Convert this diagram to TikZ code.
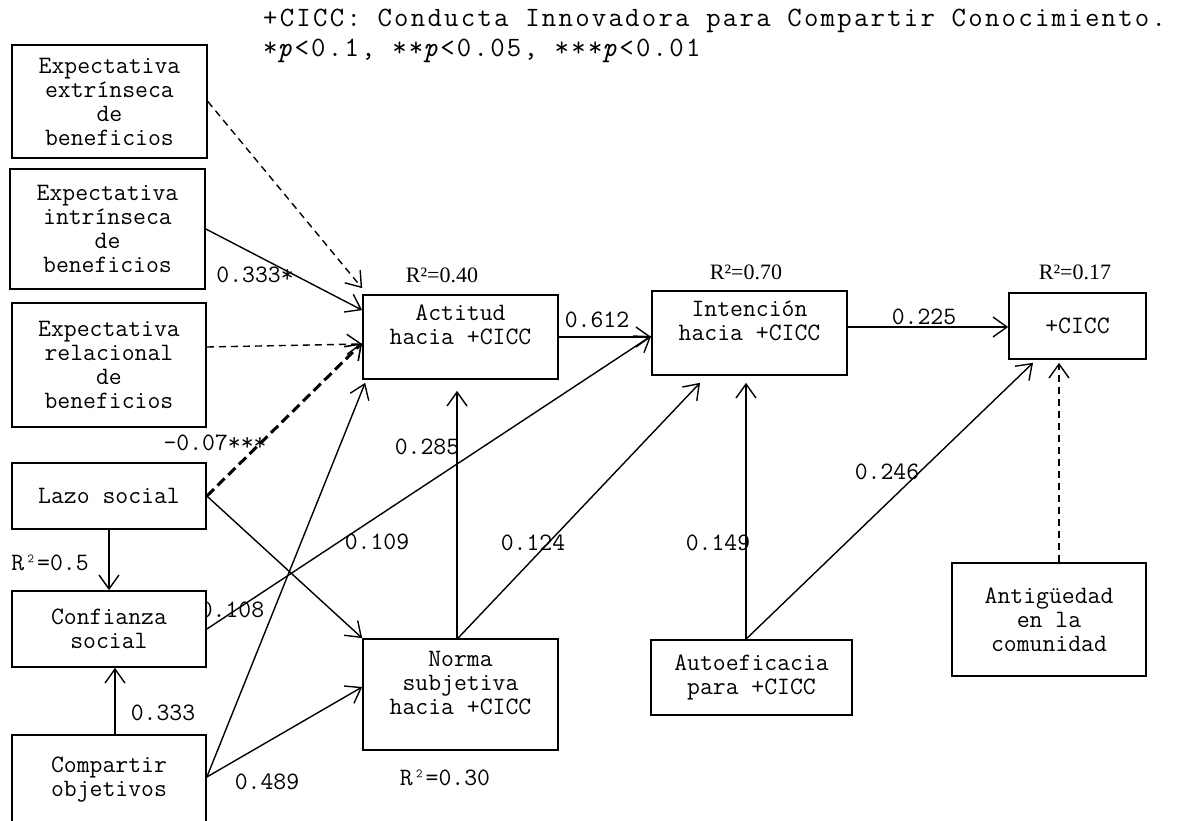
\documentclass[tikz,border=0pt]{standalone}
\usepackage{fontspec}
\setmainfont{Liberation Serif}
\setmonofont{Latin Modern Mono}
\usetikzlibrary{arrows.meta,calc}
\newcommand\boxfont{\ttfamily\fontsize{25pt}{24pt}\selectfont}
\newcommand\headfont{\ttfamily\fontsize{28pt}{30pt}\selectfont\addfontfeature{LetterSpace=8}}
\newcommand\rsqfont{\rmfamily\fontsize{22pt}{24pt}\selectfont}
\begin{document}
\begin{tikzpicture}[x=1pt,y=-1pt,
  box/.style={draw, line width=1.7pt, fill=white, inner sep=0pt, align=center, font=\boxfont},
  lbl/.style={inner sep=0pt, font=\boxfont},
  rsq/.style={inner sep=0pt, font=\rsqfont},
  hdr/.style={inner sep=0pt, font=\headfont, anchor=base west},
  arr/.style={line width=1.4pt, -{Straight Barb[length=14pt,width=20pt]}},
  dsh/.style={arr, dash pattern=on 7pt off 5pt},
  thickdsh/.style={line width=3pt, dash pattern=on 10pt off 5pt, -{Straight Barb[length=14pt,width=20pt,line width=1.6pt]}}
]
\useasboundingbox (0,0) rectangle (1181,821);

% header
\node[hdr] (h1) at (263,27) {+CICC: Conducta Innovadora para Compartir Conocimiento.};
\node[hdr] (h2) at (263,57) {*\textit{p}<0.1, **\textit{p}<0.05, ***\textit{p}<0.01};

% labels
\node[lbl] (L1) at (255,275) {0.333*};
\node[lbl] (L2) at (215,443) {-0.07***};
\node[lbl] (L3) at (597,320) {0.612};
\node[lbl] (L4) at (427,447) {0.285};
\node[lbl] (L5) at (377,542) {0.109};
\node[lbl] (L6) at (232,610) {0.108};
\node[lbl] (L7) at (533,543) {0.124};
\node[lbl] (L8) at (718,543) {0.149};
\node[lbl] (L9) at (887,472) {0.246};
\node[lbl] (L10) at (924,317) {0.225};
\node[lbl] (L11) at (163,713) {0.333};
\node[lbl] (L12) at (267,782) {0.489};
\node[lbl] (R1) at (50,563) {R²=0.5};
\node[lbl] (R2) at (445,778) {R²=0.30};
\node[rsq] (R3) at (442,275) {R²=0.40};
\node[rsq] (R4) at (746,272) {R²=0.70};
\node[rsq] (R5) at (1075,272) {R²=0.17};

% boxes
\node[box, minimum width=195pt, minimum height=113pt] (extr) at (109.5,101.5) {Expectativa\\extrínseca\\de\\beneficios};
\node[box, minimum width=195pt, minimum height=120pt] (intr) at (107.5,229) {Expectativa\\intrínseca\\de\\beneficios};
\node[box, minimum width=194pt, minimum height=124pt] (relac) at (109,365) {Expectativa\\relacional\\de\\beneficios};
\node[box, minimum width=194pt, minimum height=66pt] (lazo) at (109,496) {Lazo social};
\node[box, minimum width=194pt, minimum height=76pt] (conf) at (109,629) {Confianza\\social};
\node[box, minimum width=194pt, minimum height=90pt] (comp) at (109,780) {Compartir\\objetivos};
\node[box, minimum width=195pt, minimum height=84pt] (act) at (460.5,337) {Actitud\\hacia +CICC\\~};
\node[box, minimum width=195pt, minimum height=84pt] (int) at (749.5,333) {Intención\\hacia +CICC\\~};
\node[box, minimum width=137pt, minimum height=66pt] (cicc) at (1077.5,326) {+CICC};
\node[box, minimum width=195pt, minimum height=111pt] (norma) at (460.5,694.5) {Norma\\subjetiva\\hacia +CICC\\~};
\node[box, minimum width=201pt, minimum height=75pt] (auto) at (751.5,677.5) {Autoeficacia\\para +CICC};
\node[box, minimum width=194pt, minimum height=113pt] (antig) at (1049,619.5) {Antigüedad\\en la\\comunidad};

% connectors
\draw[dsh] (extr.east) -- ([yshift=6pt]act.north west);
\draw[arr] (intr.east) -- ([yshift=-16pt]act.north west);
\draw[dsh] ($(relac.east)+(0,-18)$) -- ([yshift=-7pt]act.west);
\draw[thickdsh] (lazo.east) -- ([yshift=-6pt]act.west);
\draw[arr] (lazo.east) -- (norma.north west);
\draw[arr] (lazo.south) -- (conf.north);
\draw[arr] ([xshift=6pt]comp.north) -- ([xshift=6pt]conf.south);
\draw[arr] ([yshift=3pt]comp.east) -- ([xshift=3pt,yshift=-3pt]act.south west);
\draw[arr] ([yshift=3pt]comp.east) -- ([yshift=7.5pt]norma.west);
\draw[arr] (conf.east) -- ([yshift=-3pt]int.west);
\draw[arr] (act.east) -- ([yshift=-4pt]int.west);
\draw[arr] ([xshift=-3.5pt]norma.north) -- ([xshift=-3.5pt,yshift=-11pt]act.south);
\draw[arr] ([xshift=-2.5pt]norma.north) -- ([xshift=-49.5pt,yshift=-7pt]int.south);
\draw[arr] ([xshift=-5.5pt]auto.north) -- ([xshift=-3.5pt,yshift=-7pt]int.south);
\draw[arr] ([xshift=-5.5pt]auto.north) -- ([xshift=-44.5pt,yshift=-3pt]cicc.south);
\draw[arr] ([yshift=6pt]int.east) -- ([yshift=-1pt]cicc.west);
\draw[dsh] ([xshift=10pt]antig.north) -- ([xshift=-18.5pt,yshift=-3pt]cicc.south);
\end{tikzpicture}
\end{document}
